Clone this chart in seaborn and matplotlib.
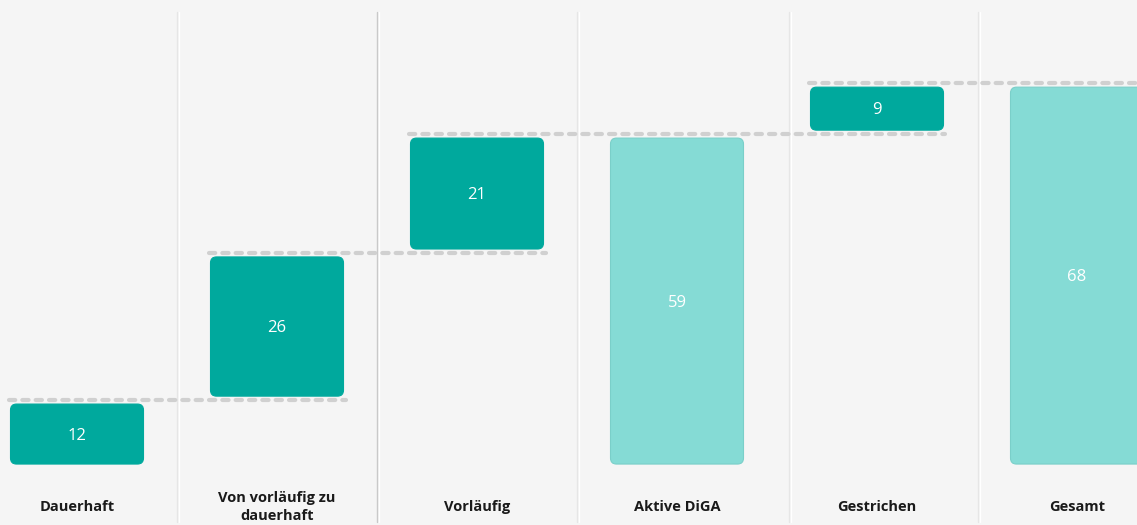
import matplotlib
matplotlib.use("Agg")
import matplotlib.pyplot as plt
from matplotlib.patches import FancyBboxPatch
import pandas as pd
import seaborn as sns

# Daten (Wasserfall)
categories = ["Dauerhaft", "Von vorläufig zu\ndauerhaft", "Vorläufig",
              "Aktive DiGA", "Gestrichen", "Gesamt"]
values = [12, 26, 21, 59, 9, 68]
bottoms = [0, 12, 38, 0, 59, 0]
kinds = ["Delta", "Delta", "Delta", "Summe", "Delta", "Summe"]

# Verbindungslinien: (Niveau, von Balken, bis Balken)
connectors = [(12, 0, 1), (38, 1, 2), (59, 2, 4), (68, 4, 5)]

df = pd.DataFrame({"Kategorie": categories, "Wert": values,
                   "Basis": bottoms, "Typ": kinds})

BG = "#f5f5f5"
DARK = "#00a99d"
LIGHT = "#85dbd5"

sns.set_theme(style="white")
plt.rcParams["font.family"] = ["Open Sans", "DejaVu Sans"]

fig = plt.figure(figsize=(11.37, 5.25), dpi=100, facecolor=BG)
ax = fig.add_axes([0, 0, 1, 1])
ax.set_facecolor(BG)

bar_w = 0.665
sns.barplot(data=df, x="Kategorie", y="Wert", hue="Typ",
            palette={"Delta": DARK, "Summe": LIGHT}, dodge=False,
            saturation=1, width=bar_w, legend=False, ax=ax, order=categories)

ax.set_xlim(-0.385, 5.3)
ax.set_ylim(-10.07, 82.7)

# Trennlinien
for xpos, col in [(0.5, "#e6e6e6"), (1.5, "#c9c9c9"), (2.5, "#e6e6e6"),
                  (3.56, "#e6e6e6"), (4.505, "#e6e6e6")]:
    ax.axvline(xpos, ymin=0.006, ymax=0.978, color=col, lw=1.0, zorder=0)
    ax.axvline(xpos + 0.012, ymin=0.006, ymax=0.978, color="white", lw=1.0, zorder=0)

# Balken verschieben und abrunden
inset = 0.7
x_px = 200.0
y_px = 5.66
for p in list(ax.patches):
    if p.get_height() == 0:
        continue
    i = int(round(p.get_x() + p.get_width() / 2))
    base = bottoms[i]
    h = values[i]
    fc = p.get_facecolor()
    p.set_visible(False)
    ec = "#7acfc9" if kinds[i] == "Summe" else DARK
    box = FancyBboxPatch((p.get_x(), base + inset), p.get_width(), h - 2 * inset,
                         boxstyle="round,pad=0,rounding_size=0.03",
                         mutation_aspect=x_px / y_px,
                         facecolor=fc, edgecolor=ec, lw=0.8, zorder=3)
    ax.add_patch(box)
    ax.text(i, base + h / 2 - 0.3, str(h), ha="center", va="center",
            color="white", fontsize=12, zorder=4)

# gestrichelte Verbindungen
for level, a, b in connectors:
    x0 = a - bar_w / 2 - 0.01
    x1 = b + bar_w / 2 + 0.01 if b < 5 else 5.5
    ax.plot([x0, x1], [level, level], color="#d0d0d0", lw=3.0,
            dashes=(1.5, 1.7), dash_capstyle="round", zorder=2)

# Kategorien
for i, c in enumerate(categories):
    ax.text(i, -6.9, c, ha="center", va="center", fontsize=10.5,
            fontweight="bold", color="#1a1a1a", linespacing=1.4)

ax.set_axis_off()
fig.savefig("out.png", dpi=100, facecolor=BG)
plt.close(fig)
